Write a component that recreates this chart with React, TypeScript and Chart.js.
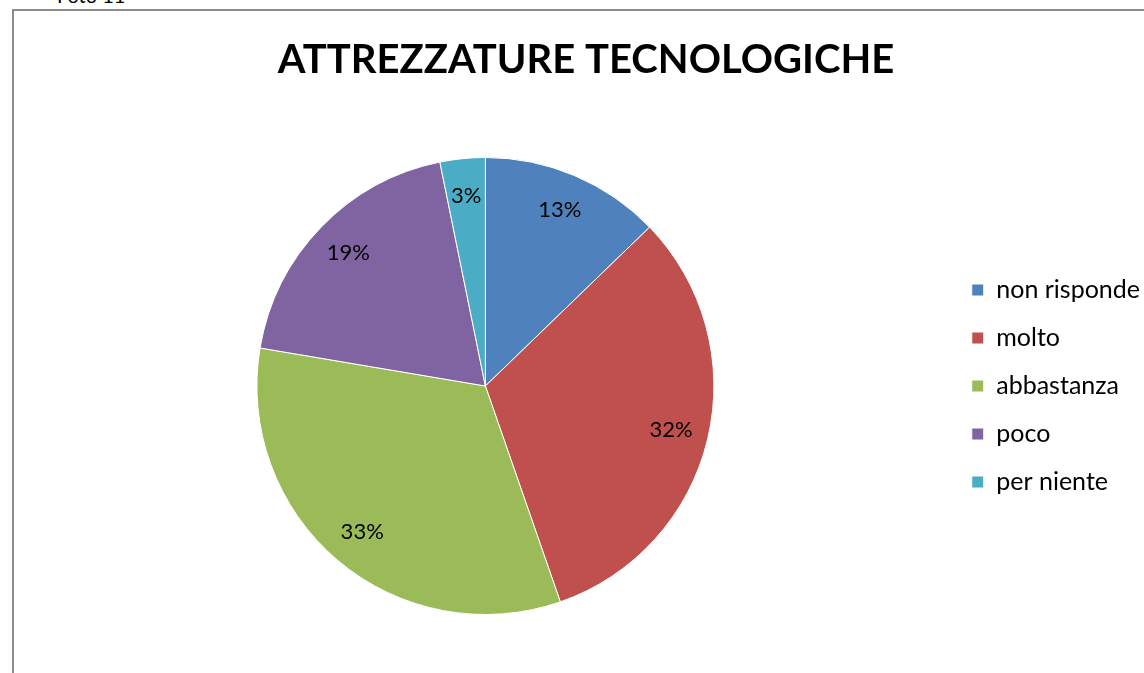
import React, { useEffect, useRef } from "react";
import { Chart, registerables } from "chart.js";

Chart.register(...registerables);

const categories: string[] = ["non risponde", "molto", "abbastanza", "poco", "per niente"];
const counts: number[] = [12, 30, 31, 18, 3];
const percentLabels: string[] = ["13%", "32%", "33%", "19%", "3%"];
const colors: string[] = ["#4F81BD", "#C0504D", "#9BBB59", "#8064A2", "#4BACC6"];
const titleText = "ATTREZZATURE TECNOLOGICHE";

const FONT = "Lato, 'Open Sans', sans-serif";

const labelPlugin = {
  id: "sliceLabels",
  afterDatasetsDraw(chart: any) {
    const meta = chart.getDatasetMeta(0);
    const ctx = chart.ctx;
    ctx.save();
    ctx.font = `22px ${FONT}`;
    ctx.fillStyle = "#000";
    ctx.textAlign = "center";
    ctx.textBaseline = "middle";
    meta.data.forEach((arc: any, i: number) => {
      const { x, y, startAngle, endAngle, outerRadius } = arc.getProps(
        ["x", "y", "startAngle", "endAngle", "outerRadius"],
        true
      );
      const mid = (startAngle + endAngle) / 2;
      const r = outerRadius * 0.835;
      ctx.fillText(percentLabels[i], x + Math.cos(mid) * r, y + Math.sin(mid) * r);
    });
    ctx.restore();
  },
};

export default function App() {
  const ref = useRef<HTMLCanvasElement | null>(null);

  useEffect(() => {
    if (!ref.current) return;
    const chart = new Chart(ref.current, {
      type: "pie",
      data: {
        labels: categories,
        datasets: [
          {
            data: counts,
            backgroundColor: colors,
            borderColor: "#ffffff",
            borderWidth: 1,
          },
        ],
      },
      options: {
        responsive: false,
        animation: false,
        layout: { padding: { left: 22, right: 20, top: 0, bottom: 58 } },
        plugins: {
          title: {
            display: true,
            text: titleText,
            color: "#000",
            font: { family: FONT, size: 40, weight: "bold" },
            padding: { top: 36, bottom: 73 },
          },
          legend: {
            position: "right",
            fullSize: false,
            labels: {
              boxWidth: 12,
              boxHeight: 12,
              padding: 23,
              color: "#000",
              font: { family: FONT, size: 25 },
            },
          },
          tooltip: { enabled: false },
        },
      },
      plugins: [labelPlugin],
    });
    return () => chart.destroy();
  }, []);

  return (
    <div
      style={{
        position: "fixed",
        left: 0,
        top: 0,
        width: 1144,
        height: 673,
        overflow: "hidden",
        background: "#fff",
      }}
    >
      <div
        style={{
          position: "absolute",
          left: 57,
          top: -17,
          fontFamily: FONT,
          fontSize: 20,
          color: "#000",
          whiteSpace: "nowrap",
        }}
      >
        Foto 11
      </div>
      <div
        style={{
          position: "absolute",
          left: 12,
          top: 9,
          width: 1200,
          height: 700,
          borderLeft: "2px solid #8c8c8c",
          borderTop: "2px solid #8c8c8c",
        }}
      />
      <canvas
        ref={ref}
        width={1170}
        height={673}
        style={{ position: "absolute", left: 0, top: 0, width: 1170, height: 673 }}
      />
    </div>
  );
}
